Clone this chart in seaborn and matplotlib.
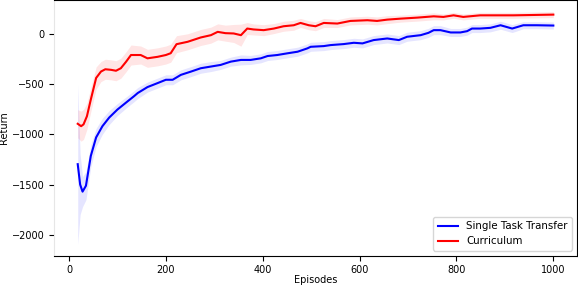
import numpy as np
import pandas as pd
import seaborn as sns
import matplotlib
matplotlib.use("Agg")
import matplotlib.pyplot as plt

# Single Task Transfer (blue)
episodes_single = [18, 23, 28, 35, 45, 56, 69, 83, 100, 121, 134, 142, 162, 183, 200, 214,
                   231, 252, 272, 293, 313, 334, 355, 375, 396, 410, 430, 451, 472, 492,
                   499, 526, 540, 567, 588, 606, 629, 657, 681, 698, 726, 742, 753, 767,
                   788, 808, 822, 832, 849, 870, 891, 915, 938, 966, 1000]
return_single = [-1297, -1500, -1571, -1512, -1215, -1030, -918, -832, -752, -670, -620, -587,
                 -528, -488, -455, -455, -406, -373, -340, -323, -307, -274, -257, -257,
                 -241, -218, -208, -191, -175, -142, -126, -119, -109, -99, -86, -92, -59,
                 -43, -59, -26, -10, 13, 40, 40, 17, 17, 30, 56, 56, 63, 89, 56, 89, 89, 86]
spread_single = [800, 300, 150, 140, 110, 90, 80, 70, 60, 55, 55, 55, 50, 50, 50, 50,
                 50, 50, 50, 50, 45, 45, 50, 45, 45, 45, 45, 45, 45, 45,
                 45, 45, 45, 45, 45, 45, 45, 45, 45, 45, 45, 45, 45, 45,
                 40, 40, 40, 40, 40, 40, 40, 40, 35, 35, 35]

# Curriculum (red)
episodes_curr = [18, 25, 30, 37, 45, 56, 66, 75, 87, 97, 107, 118, 128, 148, 162, 183,
                 200, 210, 222, 245, 272, 293, 307, 323, 340, 355, 368, 381, 402, 423,
                 443, 464, 478, 495, 509, 526, 554, 581, 616, 636, 657, 685, 719, 753,
                 773, 794, 814, 849, 884, 918, 953, 1000]
return_curr = [-894, -918, -900, -819, -653, -437, -373, -350, -356, -365, -340, -274, -208,
               -208, -241, -226, -208, -190, -100, -76, -33, -10, 23, 10, 7, -10, 56, 47,
               40, 56, 79, 89, 112, 89, 79, 112, 106, 132, 139, 132, 145, 155, 165, 178,
               172, 188, 172, 188, 188, 188, 191, 195]
spread_curr = [140, 150, 150, 130, 120, 110, 100, 100, 100, 100, 100, 100, 100, 90, 90, 90,
               90, 90, 85, 80, 80, 80, 80, 80, 90, 110, 60, 55, 55, 50,
               50, 50, 45, 45, 45, 45, 40, 40, 40, 40, 40, 35, 35, 35,
               30, 30, 30, 30, 30, 30, 30, 30]

df_single = pd.DataFrame({"Episodes": episodes_single, "Return": return_single,
                          "spread": spread_single})
df_curr = pd.DataFrame({"Episodes": episodes_curr, "Return": return_curr,
                        "spread": spread_curr})

plt.rcParams["font.size"] = 7

fig = plt.figure(figsize=(5.78, 2.86), dpi=100)
ax = fig.add_axes([0.0934, 0.106, 0.905, 0.893])

for df, color, label in [(df_single, "#0000ff", "Single Task Transfer"),
                         (df_curr, "#ff0000", "Curriculum")]:
    sns.lineplot(data=df, x="Episodes", y="Return", color=color, linewidth=1.5,
                 label=label, ax=ax)
    ax.fill_between(df["Episodes"], df["Return"] - df["spread"],
                    df["Return"] + df["spread"], color=color, alpha=0.1, linewidth=0)

ax.set_xlim(-31, 1049)
ax.set_ylim(-2210, 338)
ax.set_xticks([0, 200, 400, 600, 800, 1000])
ax.set_yticks([-2000, -1500, -1000, -500, 0])
ax.tick_params(labelsize=7)
ax.set_xlabel("Episodes", fontsize=7, labelpad=0)
ax.set_ylabel("Return", fontsize=7, labelpad=1.5)
ax.spines["left"].set_color("#e6e6e6")
ax.legend(loc="lower right", fontsize=7.4)

fig.savefig("out.png", dpi=100)
